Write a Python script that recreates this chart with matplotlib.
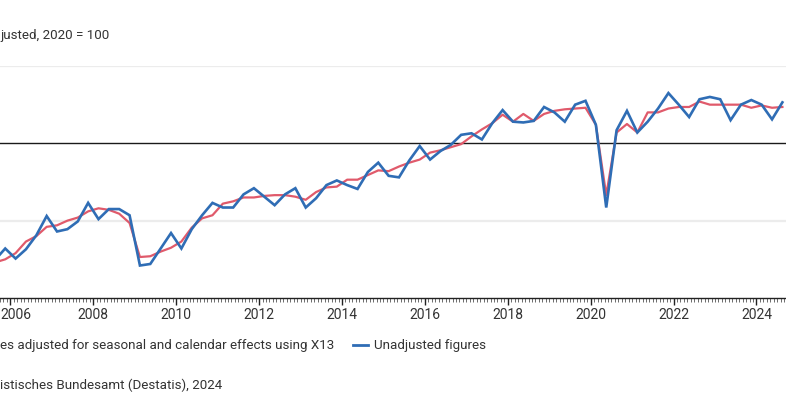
import numpy as np
import matplotlib
matplotlib.use("Agg")
import matplotlib.pyplot as plt
import matplotlib.transforms as mtransforms
from matplotlib.lines import Line2D

# ---- data (quarterly, 2020 = 100) ----
start_year = 2005
start_quarter = 3  # first value = 2005 Q3
unadjusted = [
    84.9, 86.4,                                  # 2005 Q3-Q4
    85.1, 86.3, 88.1, 90.6,                      # 2006
    88.6, 88.9, 89.9, 92.3,                      # 2007
    90.2, 91.5, 91.5, 90.7,                      # 2008
    84.2, 84.4, 86.4, 88.4,                      # 2009
    86.4, 88.9, 90.7, 92.3,                      # 2010
    91.7, 91.7, 93.4, 94.2,                      # 2011
    93.1, 92.0, 93.4, 94.2,                      # 2012
    91.7, 92.9, 94.6, 95.2,                      # 2013
    94.6, 94.1, 96.3, 97.5,                      # 2014
    95.8, 95.6, 97.8, 99.65,                     # 2015
    97.9, 99.0, 99.8, 101.1,                     # 2016
    101.3, 100.5, 102.6, 104.3,                  # 2017
    102.8, 102.7, 102.9, 104.7,                  # 2018
    104.0, 102.8, 105.0, 105.5,                  # 2019
    102.4, 91.7, 101.7, 104.2,                   # 2020
    101.4, 102.8, 104.5, 106.5,                  # 2021
    105.0, 103.4, 105.7, 106.0,                  # 2022
    105.7, 103.0, 105.0, 105.6,                  # 2023
    105.0, 103.1, 105.3,                         # 2024
]
adjusted = [
    84.6, 85.0,
    85.8, 87.3, 88.0, 89.2,
    89.4, 90.0, 90.4, 91.2,
    91.6, 91.4, 90.9, 89.7,
    85.3, 85.4, 86.0, 86.5,
    87.3, 89.1, 90.3, 90.7,
    92.2, 92.5, 93.0, 93.0,
    93.2, 93.3, 93.3, 93.1,
    92.7, 93.7, 94.3, 94.4,
    95.3, 95.3, 95.9, 96.5,
    96.4, 97.0, 97.5, 97.9,
    98.8, 99.1, 99.5, 99.9,
    100.9, 101.8, 102.6, 103.7,
    102.8, 103.8, 102.9, 103.8,
    104.2, 104.4, 104.5, 104.6,
    102.4, 93.3, 101.4, 102.5,
    101.4, 104.0, 104.0, 104.5,
    104.7, 104.7, 105.4, 105.0,
    105.0, 105.0, 105.0, 104.6,
    104.9, 104.6, 104.7,
]
year_ticks = list(range(2006, 2025, 2))
# texts as visible in the (cropped) reference
label_unit = "justed, 2020 = 100"
label_adj = "es adjusted for seasonal and calendar effects using X13"
label_unadj = "Unadjusted figures"
source_text = "istisches Bundesamt (Destatis), 2024"

n = len(unadjusted)
t = np.array([start_year + (start_quarter - 1 + i) * 0.25 + 0.125 for i in range(n)])

# ---- style ----
FONT = ["Roboto", "DejaVu Sans"]
plt.rcParams["font.family"] = FONT
TXT = "#333333"
BLUE = "#2f6db5"
RED = "#e05a6b"
FS = 9.6

W, H = 786, 413
fig = plt.figure(figsize=(W / 100, H / 100), dpi=100)

def fx(px):
    return px / W

def fy(py):
    return 1 - py / H

ax_top, ax_bot = 66, 298
ax = fig.add_axes([0, fy(ax_bot), 1, fy(ax_top) - fy(ax_bot)])

for v in (90, 110):
    ax.axhline(v, color="#ececec", lw=1.6, zorder=0)
ax.axhline(100, color="#1a1a1a", lw=1.0, zorder=1)

ax.plot(t, adjusted, color=RED, lw=1.6, zorder=3, solid_joinstyle="round")
ax.plot(t, unadjusted, color=BLUE, lw=1.9, zorder=4, solid_joinstyle="miter")

for s in ("left", "right", "top"):
    ax.spines[s].set_visible(False)
ax.spines["bottom"].set_color("#222222")
ax.spines["bottom"].set_linewidth(1.0)
ax.set_yticks([])
ax.set_xticks(year_ticks)
ax.set_xticklabels([str(y) for y in year_ticks])
ax.set_xticks(np.arange(2005, 2025.01, 1 / 12), minor=True)
ax.tick_params(axis="x", which="major", length=5, width=1.0, color="#222222",
               labelsize=FS + 0.4, labelcolor=TXT, pad=2.5)
ax.tick_params(axis="x", which="minor", length=3, width=0.6, color="#555555")
ax.set_xlim(2005.749, 2024.712)
ax.set_ylim(80, 110)

# keep the first year label just inside the canvas
first = ax.get_xticklabels()[0]
first.set_transform(first.get_transform() +
                    mtransforms.ScaledTranslation(5 / 100, 0, fig.dpi_scale_trans))

fig.text(fx(0), fy(35), label_unit, ha="left", va="center", fontsize=FS, color=TXT)

# legend (manual)
fig.text(fx(0), fy(345), label_adj, ha="left", va="center", fontsize=FS, color=TXT)
fig.add_artist(Line2D([fx(353), fx(368)], [fy(345), fy(345)], color=BLUE, lw=2,
                      transform=fig.transFigure))
fig.text(fx(374), fy(345), label_unadj, ha="left", va="center", fontsize=FS, color=TXT)

fig.text(fx(0), fy(385), source_text, ha="left", va="center", fontsize=FS, color=TXT)

fig.savefig("out.png", dpi=100)
